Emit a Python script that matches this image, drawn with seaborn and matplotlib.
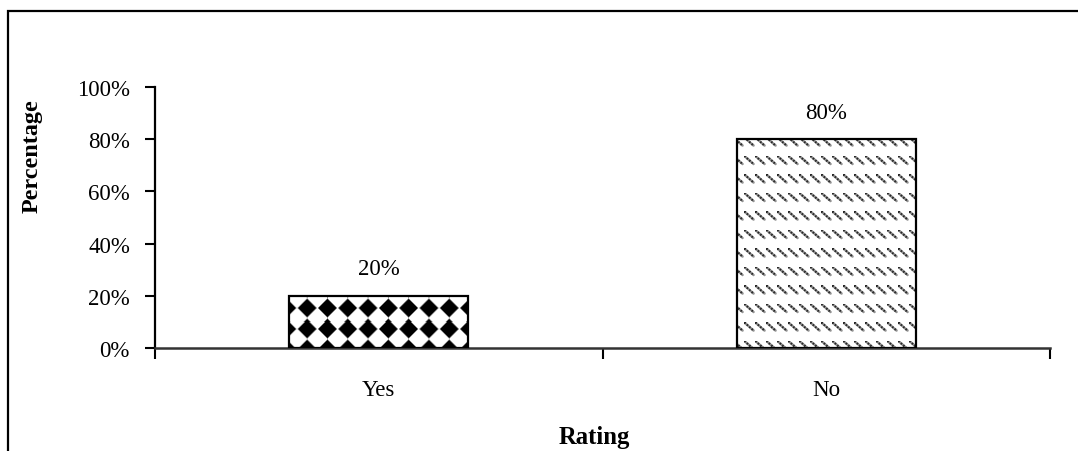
import numpy as np
import pandas as pd
import matplotlib
matplotlib.use("Agg")
import matplotlib.pyplot as plt
from matplotlib.patches import Rectangle
from matplotlib.ticker import PercentFormatter, FixedLocator, NullFormatter
import seaborn as sns

# --- data -------------------------------------------------------------
categories = ["Yes", "No"]
shares = [0.20, 0.80]
y_ticks = [0.0, 0.2, 0.4, 0.6, 0.8, 1.0]
x_label = "Rating"
y_label = "Percentage"

sns.set_theme(style="white")
plt.rcParams["font.family"] = ["Liberation Serif", "DejaVu Serif"]

W, H, DPI = 1078, 452, 100
fig = plt.figure(figsize=(W / DPI, H / DPI), dpi=DPI)
fig.patch.set_facecolor("white")
ax = fig.add_axes([155 / W, 1 - 349 / H, (1050 - 155) / W, (349 - 88) / H])

df = pd.DataFrame({"rating": categories, "share": shares})
sns.barplot(data=df, x="rating", y="share", width=0.4, color="white",
            edgecolor="black", linewidth=1.6, saturation=1, ax=ax)

ax.set_xlim(-0.5, len(categories) - 0.5)
ax.set_ylim(0, 1)

# axes styling
for side in ("top", "right"):
    ax.spines[side].set_visible(False)
ax.spines["left"].set_color("black")
ax.spines["left"].set_linewidth(1.6)
ax.spines["bottom"].set_color("#333333")
ax.spines["bottom"].set_linewidth(1.8)

ax.yaxis.set_major_locator(FixedLocator(y_ticks))
ax.yaxis.set_major_formatter(PercentFormatter(1.0, decimals=0))
ax.tick_params(axis="y", direction="out", length=7, width=1.5, color="black",
               left=True, pad=11, labelsize=16.5, labelcolor="black")

# ticks at the category boundaries, labels at the category centres
n = len(categories)
ax.xaxis.set_major_locator(FixedLocator(np.arange(-0.5, n, 1.0)))
ax.xaxis.set_major_formatter(NullFormatter())
ax.xaxis.set_minor_locator(FixedLocator(np.arange(n)))
ax.set_xticklabels(categories, minor=True)
ax.tick_params(axis="x", which="major", direction="out", length=8, width=1.5,
               color="black", bottom=True)
ax.tick_params(axis="x", which="minor", length=0, pad=22, labelsize=16.5,
               labelcolor="black")

ax.set_xlabel(x_label, fontsize=17.8, fontweight="bold", color="black")
ax.set_ylabel(y_label, fontsize=17.4, fontweight="bold", color="black")
ax.xaxis.set_label_coords((594 - 155) / (1050 - 155), -0.34)
ax.yaxis.set_label_coords((32 - 155) / (1050 - 155), (349 - 156) / (349 - 88))
ax.yaxis.label.set_verticalalignment("center")
ax.xaxis.label.set_verticalalignment("center")

# value labels above bars
ax.bar_label(ax.containers[0], labels=[f"{v:.0%}" for v in shares],
             padding=12, fontsize=16.5, color="black")


# --- fill textures for the bars ----------------------------------------
def diamond_texture(X, Y):
    dx = np.mod(X - 307 + 10, 20.3) - 10.15
    dy = np.mod(Y - 310 + 10, 20.0) - 10.0
    d = np.abs(dx) + np.abs(dy)
    return np.clip((d - 8.4) / 2.0, 0, 1)


def dash_texture(X, Y):
    u = np.mod(X - 733, 11.0)
    v = np.mod(Y - 138.5, 18.5)
    # short strokes running from upper-left to lower-right
    p0 = np.array([1.0, 0.5])
    p1 = np.array([9.5, 8.0])
    seg = p1 - p0
    L2 = seg @ seg
    t = np.clip(((u - p0[0]) * seg[0] + (v - p0[1]) * seg[1]) / L2, 0, 1)
    px = p0[0] + t * seg[0]
    py = p0[1] + t * seg[1]
    dist = np.hypot(u - px, v - py)
    stroke = np.clip(1.7 - dist, 0, 1)
    dots = 0.75 + 0.25 * np.cos(2 * np.pi * t * np.sqrt(L2) / 3.2)
    return 1 - 0.85 * stroke * dots


textures = [diamond_texture, dash_texture]
fig.canvas.draw()
for patch, tex in zip(ax.patches, textures):
    patch.set_facecolor("none")
    patch.set_zorder(3)
    bb = patch.get_window_extent()
    x0, x1 = int(round(bb.x0)), int(round(bb.x1))
    ytop, ybot = int(round(H - bb.y1)), int(round(H - bb.y0))
    X, Y = np.meshgrid(np.arange(x0, x1) + 0.5, np.arange(ytop, ybot) + 0.5)
    img = tex(X, Y)
    dx0, dy0 = patch.get_x(), patch.get_y()
    im = ax.imshow(img, cmap="gray", vmin=0, vmax=1, origin="upper",
                   extent=(dx0, dx0 + patch.get_width(), dy0, dy0 + patch.get_height()),
                   interpolation="nearest", aspect="auto", zorder=2)
    im.set_clip_path(patch)

ax.set_xlim(-0.5, n - 0.5)
ax.set_ylim(0, 1)

# frame around the figure
fig.add_artist(Rectangle((8 / W, -0.2), 1.2, (1 - 12 / H) + 0.2,
                         transform=fig.transFigure, fill=False,
                         edgecolor="black", linewidth=1.6, clip_on=False))

fig.savefig("out.png", dpi=DPI, facecolor="white")
